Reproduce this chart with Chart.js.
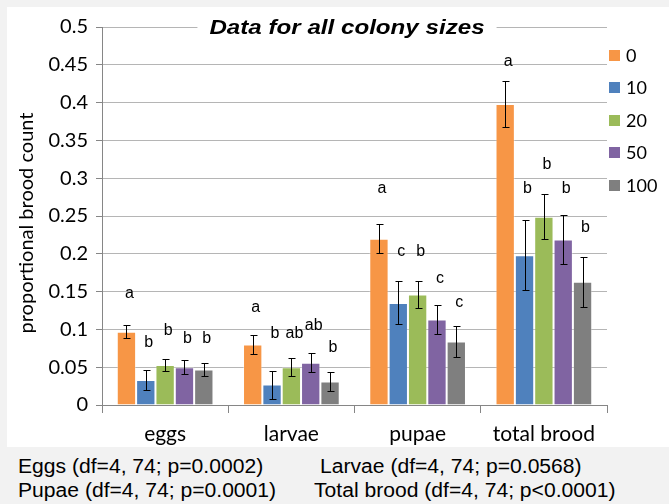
<!DOCTYPE html>
<html>
<head>
<meta charset="utf-8">
<script src="https://cdn.jsdelivr.net/npm/chart.js@4.4.1/dist/chart.umd.min.js"></script>
<style>
  body { margin: 0; background: #f2f2f2; width: 669px; height: 504px; overflow: hidden; }
  #box { position: absolute; left: 7px; top: 7px; width: 662px; height: 440px; background: #fff; }
  .note { position: absolute; font: 20px 'Liberation Sans', Arial, sans-serif; color: #000; line-height: 24px;
          white-space: nowrap; transform: scaleX(1.055); transform-origin: left center; }
</style>
</head>
<body>
<div id="box"><canvas id="myCanvas" width="662" height="440"></canvas></div>
<div class="note" style="left:18px; top:454px">Eggs (df=4, 74; p=0.0002)</div>
<div class="note" style="left:320px; top:454px">Larvae (df=4, 74; p=0.0568)</div>
<div class="note" style="left:18px; top:478px">Pupae (df=4, 74; p=0.0001)</div>
<div class="note" style="left:314px; top:478px">Total brood (df=4, 74; p&lt;0.0001)</div>
<script>
// brood stages and colony sizes
const stages = ['eggs', 'larvae', 'pupae', 'total brood'];
const sizes = ['0', '10', '20', '50', '100'];
const colors = ['#f79646', '#4f81bd', '#9bbb59', '#8064a2', '#7f7f7f'];

// means, one array per colony size
const size0 = [0.097, 0.080, 0.220, 0.398];
const size10 = [0.033, 0.027, 0.135, 0.198];
const size20 = [0.053, 0.050, 0.146, 0.249];
const size50 = [0.050, 0.056, 0.113, 0.219];
const size100 = [0.047, 0.031, 0.084, 0.163];

// error bar half lengths
const err0 = [0.0085, 0.0125, 0.0195, 0.0305];
const err10 = [0.0135, 0.0185, 0.0285, 0.0465];
const err20 = [0.0085, 0.012, 0.018, 0.0295];
const err50 = [0.0095, 0.0125, 0.0195, 0.032];
const err100 = [0.009, 0.013, 0.020, 0.033];

// significance letters and the height they sit at
const letters0 = ['a', 'a', 'a', 'a'];
const letters10 = ['b', 'b', 'c', 'b'];
const letters20 = ['b', 'ab', 'b', 'b'];
const letters50 = ['b', 'ab', 'c', 'b'];
const letters100 = ['b', 'b', 'c', 'b'];
const letterAt0 = [0.147, 0.129, 0.2865, 0.4545];
const letterAt10 = [0.083, 0.094, 0.2034, 0.2865];
const letterAt20 = [0.098, 0.094, 0.2034, 0.3185];
const letterAt50 = [0.0875, 0.1045, 0.1676, 0.2865];
const letterAt100 = [0.0875, 0.0765, 0.1356, 0.2349];

const yTicks = [0, 0.05, 0.1, 0.15, 0.2, 0.25, 0.3, 0.35, 0.4, 0.45, 0.5];

const means = [size0, size10, size20, size50, size100];
const errs = [err0, err10, err20, err50, err100];
const letters = [letters0, letters10, letters20, letters50, letters100];
const letterAt = [letterAt0, letterAt10, letterAt20, letterAt50, letterAt100];

const axisFont = "Lato, 'Open Sans', sans-serif";

const errorBars = {
  id: 'errorBars',
  afterDatasetsDraw(chart) {
    const ctx = chart.ctx;
    const y = chart.scales.y;
    ctx.save();
    ctx.strokeStyle = '#000';
    ctx.lineWidth = 1;
    chart.data.datasets.forEach((ds, i) => {
      chart.getDatasetMeta(i).data.forEach((bar, j) => {
        const top = Math.round(y.getPixelForValue(ds.data[j] + ds.err[j])) + 0.5;
        const bot = Math.round(y.getPixelForValue(ds.data[j] - ds.err[j])) + 0.5;
        const x = Math.round(bar.x) + 0.5;
        ctx.beginPath();
        ctx.moveTo(x, top); ctx.lineTo(x, bot);
        ctx.moveTo(x - 3, top); ctx.lineTo(x + 4, top);
        ctx.moveTo(x - 3, bot); ctx.lineTo(x + 4, bot);
        ctx.stroke();
      });
    });
    // letters
    ctx.fillStyle = '#000';
    ctx.font = "16px 'Liberation Sans', Arial, sans-serif";
    ctx.textAlign = 'center';
    ctx.textBaseline = 'middle';
    chart.data.datasets.forEach((ds, i) => {
      chart.getDatasetMeta(i).data.forEach((bar, j) => {
        ctx.fillText(ds.letters[j], bar.x + 3, y.getPixelForValue(ds.letterAt[j]));
      });
    });
    ctx.restore();
  },
  afterDraw(chart) {
    const ctx = chart.ctx;
    ctx.save();
    // title over the top grid line
    ctx.font = "italic bold 21px 'Liberation Sans', Arial, sans-serif";
    const title = 'Data for all colony sizes';
    const sx = 1.15;
    const w = ctx.measureText(title).width * sx;
    const cx = 340, cy = 21;
    ctx.fillStyle = '#fff';
    ctx.fillRect(cx - w / 2 - 12, cy - 13, w + 24, 26);
    ctx.fillStyle = '#000';
    ctx.textAlign = 'center';
    ctx.textBaseline = 'middle';
    ctx.translate(cx, cy);
    ctx.scale(sx, 1);
    ctx.fillText(title, 0, 0);
    ctx.setTransform(1, 0, 0, 1, 0, 0);
    // y axis title
    ctx.font = '20px ' + axisFont;
    ctx.translate(20, 216);
    ctx.rotate(-Math.PI / 2);
    ctx.fillText('proportional brood count', 0, 0);
    ctx.setTransform(1, 0, 0, 1, 0, 0);
    // legend
    ctx.font = '18px ' + axisFont;
    ctx.textAlign = 'left';
    chart.data.datasets.forEach((ds, i) => {
      const ly = 48 + i * 32.5;
      ctx.fillStyle = ds.backgroundColor;
      ctx.fillRect(602, Math.round(ly - 5.5), 11, 11);
      ctx.fillStyle = '#000';
      ctx.fillText(ds.label, 619, ly + 1);
    });
    ctx.restore();
  }
};

new Chart(document.getElementById('myCanvas'), {
  type: 'bar',
  data: {
    labels: stages,
    datasets: sizes.map((s, i) => ({
      label: s,
      data: means[i],
      err: errs[i],
      letters: letters[i],
      letterAt: letterAt[i],
      backgroundColor: colors[i],
      borderColor: 'rgba(255,255,255,0.35)',
      borderWidth: 1,
      categoryPercentage: 0.766,
      barPercentage: 1,
    })),
  },
  options: {
    responsive: false,
    animation: false,
    layout: { padding: { top: 17, right: 62, left: 0, bottom: 0 } },
    plugins: {
      legend: { display: false },
      tooltip: { enabled: false },
    },
    scales: {
      x: {
        afterFit: (s) => { s.height = 42; },
        grid: { drawOnChartArea: false, tickLength: 8, color: '#868686', offset: true },
        border: { color: '#868686' },
        ticks: { color: '#000', padding: 9, font: { family: axisFont, size: 21 } },
      },
      y: {
        min: 0,
        max: 0.5,
        afterFit: (s) => { s.width = 95; },
        afterBuildTicks: (s) => { s.ticks = yTicks.map((v) => ({ value: v })); },
        grid: { color: '#b5b5b5', tickLength: 6, tickColor: '#868686' },
        border: { color: '#868686' },
        ticks: {
          color: '#000',
          padding: 8,
          font: { family: axisFont, size: 20 },
          callback: (v) => String(+v.toFixed(2)),
        },
      },
    },
  },
  plugins: [errorBars],
});
</script>
</body>
</html>
